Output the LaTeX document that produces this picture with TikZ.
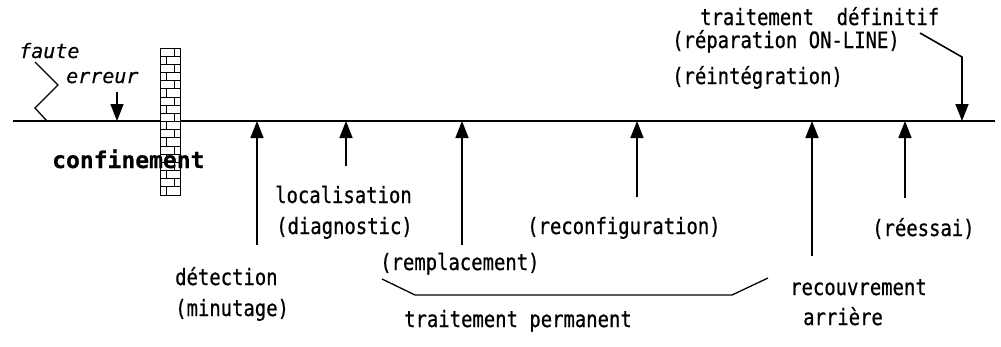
\documentclass[tikz,border=0pt]{standalone}
\usepackage{fontspec}
\usetikzlibrary{arrows.meta}
\newfontfamily\labelfont[FakeStretch=0.84,FakeBold=0.6]{DejaVu Sans Mono}
\newfontfamily\faultfont[FakeBold=0.4]{DejaVu Sans Mono}
\newfontfamily\wallfont[FakeBold=0.5]{DejaVu Sans Mono}
\begin{document}
\begin{tikzpicture}[x=1pt,y=-1pt,
  lbl/.style={anchor=base west,inner sep=0pt,font=\labelfont\fontsize{22.5}{24}\selectfont},
  ilbl/.style={anchor=base west,inner sep=0pt,font=\faultfont\itshape\fontsize{20}{22}\selectfont},
  blbl/.style={anchor=base west,inner sep=0pt,font=\wallfont\bfseries\fontsize{23}{25}\selectfont},
  ev/.style={line width=1.6pt,-{Triangle[length=17pt,width=13pt]}},
  thin/.style={line width=1.3pt}]
\useasboundingbox (0,0) rectangle (1001,346);

% time line
\coordinate (t0) at (13,121);
\coordinate (t1) at (995,121);
\draw[line width=1.8pt] (t0) -- (t1);

% wall of bricks
\draw[line width=1pt,fill=white] (160,48) rectangle (180,195);
\foreach \i in {0,...,17}{
  \pgfmathsetmacro\ya{48+\i*8.17}
  \pgfmathsetmacro\yb{48+(\i+1)*8.17}
  \draw[line width=0.8pt] (160,\yb) -- (180,\yb);
  \ifodd\i
    \draw[line width=0.8pt] (166,\ya) -- (166,\yb);
  \else
    \draw[line width=0.8pt] (174,\ya) -- (174,\yb);
  \fi
}

% labels
\node[ilbl] (faute) at (19,58) {faute};
\node[ilbl] (erreur) at (66,83) {erreur};
\node[blbl] (conf) at (52,168) {confinement};
\node[lbl] (defin) at (700,25) {traitement\ \ définitif};
\node[lbl] (repar) at (672,48) {(réparation ON-LINE)};
\node[lbl] (reint) at (672,84) {(réintégration)};
\node[lbl] (local) at (275,203) {localisation};
\node[lbl] (diag) at (276,234) {(diagnostic)};
\node[lbl] (reconf) at (527,234) {(reconfiguration)};
\node[lbl] (detec) at (175,285) {détection};
\node[lbl] (minut) at (175,316) {(minutage)};
\node[lbl] (rempl) at (380,270) {(remplacement)};
\node[lbl] (perm) at (404,327) {traitement permanent};
\node[lbl] (reess) at (872,236) {(réessai)};
\node[lbl] (recouv) at (790,295) {recouvrement};
\node[lbl] (arr) at (803,325) {arrière};

% fault propagation zigzag
\coordinate (z0) at (35,62);
\coordinate (z1) at (58,85);
\coordinate (z2) at (35,108);
\coordinate (z3) at (47,121);
\draw[thin] (z0) -- (z1) -- (z2) -- (z3);

% error arrow
\coordinate (e0) at (117,92);
\coordinate (e1) at (117,121);
\draw[ev] (e0) -- (e1);

% arrows up to the time line
\foreach \n/\x/\y in {det/257/245, loc/346/166, rem/462/245, rec/637/197, rcv/812/256, ress/905/198}{
  \coordinate (\n-s) at (\x,\y);
  \coordinate (\n-e) at (\x,121);
  \draw[ev] (\n-s) -- (\n-e);
}

% definitive treatment arrow
\coordinate (d0) at (920,33);
\coordinate (d1) at (962,57);
\coordinate (d2) at (962,121);
\draw[ev] (d0) -- (d1) -- (d2);

% bracket of the permanent treatment
\coordinate (b0) at (382,279);
\coordinate (b1) at (415,295);
\coordinate (b2) at (732,295);
\coordinate (b3) at (768,278);
\draw[thin] (b0) -- (b1) -- (b2) -- (b3);
\end{tikzpicture}
\end{document}
